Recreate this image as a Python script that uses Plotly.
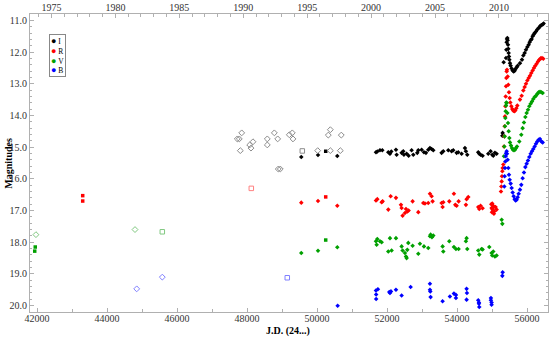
"""Light curve of the variable: I, R, V, B magnitudes vs J.D."""
import datetime as dt
import plotly.graph_objects as go

# CCD photometry, J.D. - 2400000 and magnitude
I_JD = [49551, 50029, 50580, 51685, 51723, 51799, 51866, 52037, 52085, 52123,
        52256, 52275, 52418, 52465, 52484, 52561, 52618, 52703, 52751, 52865,
        52894, 52989, 53056, 53113, 53179, 53227, 53275, 53322, 53560, 53608,
        53751, 53846, 53893, 53989, 54036, 54131, 54227, 54255, 54293, 54607,
        54636, 54674, 54731, 54893, 54960, 55007, 55036, 55083, 55131,
        55295, 55304, 55333, 55400, 55409, 55419, 55428, 55438, 55447, 55457,
        55466, 55476, 55485, 55495, 55514, 55533, 55561, 55590, 55619, 55647,
        55676, 55704, 55733, 55799, 55857, 55895, 55933, 55971, 56009, 56047,
        56075, 56104, 56133, 56161, 56190, 56218, 56256, 56294, 56333, 56371,
        56409, 56447, 56475]
I_MAG = [15.31, 15.25, 15.28, 15.16, 15.14, 15.10, 15.10, 15.16, 15.21, 15.14,
         15.08, 15.24, 15.18, 15.13, 15.24, 15.21, 15.27, 15.10, 15.24, 15.18,
         15.10, 15.08, 15.16, 15.18, 15.08, 15.03, 15.06, 15.10, 15.18, 15.13,
         15.10, 15.13, 15.10, 15.18, 15.16, 15.21, 15.03, 15.13, 15.24, 15.16,
         15.21, 15.24, 15.27, 15.21, 15.13, 15.24, 15.27, 15.18, 15.21,
         14.64, 14.55, 12.32, 12.19, 11.93, 11.69, 11.59, 11.56, 11.63, 11.77,
         11.90, 12.03, 12.14, 12.24, 12.35, 12.43, 12.52, 12.58, 12.61, 12.59,
         12.53, 12.48, 12.43, 12.35, 12.24, 12.11, 12.03, 11.93, 11.84, 11.77,
         11.69, 11.63, 11.59, 11.50, 11.45, 11.40, 11.35, 11.29, 11.24, 11.19,
         11.15, 11.13, 11.10]

R_JD = [49551, 50029, 50580, 51685, 51723, 51847, 51875, 52037, 52104, 52256,
        52399, 52418, 52446, 52513, 52542, 52580, 52618, 52732, 52894, 53037,
        53084, 53179, 53227, 53275, 53303, 53560, 53589, 53608, 53779, 53912,
        53951, 53989, 54046, 54255, 54274, 54322, 54607, 54636, 54674, 54731,
        54988, 55007, 55017, 55036, 55055, 55064, 55102, 55131, 54979, 54998, 55026,
        55257, 55266, 55276, 55285, 55295, 55304, 55323, 55342, 55352, 55361,
        55371, 55381, 55390, 55400, 55409, 55419, 55428, 55447, 55466, 55485,
        55504, 55523, 55552, 55580, 55609, 55638, 55666, 55695, 55723, 55799,
        55847, 55895, 55933, 55971, 56009, 56047, 56085, 56123, 56161, 56199,
        56237, 56275, 56313, 56352, 56390, 56428, 56466]
R_MAG = [16.75, 16.70, 16.85, 16.68, 16.64, 16.74, 16.71, 16.97, 16.55, 16.60,
         16.82, 16.92, 17.16, 17.08, 16.95, 17.03, 17.00, 16.71, 17.05, 16.76,
         16.78, 16.76, 16.47, 16.55, 16.71, 16.76, 16.89, 16.74, 16.71, 16.47,
         16.82, 16.85, 16.71, 16.82, 16.64, 16.57, 16.89, 16.95, 16.85, 16.93,
         16.92, 16.78, 16.97, 16.85, 17.10, 17.03, 16.89, 16.97, 16.80, 17.05, 16.92,
         16.40, 16.24, 16.08, 15.92, 15.76, 15.66, 15.55, 14.98, 14.66, 14.34,
         14.03, 13.71, 13.40, 13.08, 12.82, 12.61, 12.56, 12.77, 13.03, 13.27,
         13.45, 13.59, 13.71, 13.80, 13.85, 13.87, 13.84, 13.77, 13.69, 13.50,
         13.38, 13.21, 13.10, 13.00, 12.90, 12.82, 12.75, 12.66, 12.58, 12.50,
         12.43, 12.37, 12.30, 12.24, 12.20, 12.19, 12.21]

V_JD = [49551, 50029, 50580, 51685, 51704, 51723, 51799, 51847, 52037, 52085,
        52132, 52256, 52418, 52446, 52513, 52542, 52561, 52580, 52608, 52732,
        52894, 52941, 53056, 53179, 53227, 53246, 53284, 53322, 53589, 53608,
        53779, 53912, 53970, 54046, 54255, 54274, 54293, 54607, 54636, 54703,
        54731, 54922, 54988, 55007, 55036, 55083, 55131,
        55276, 55295, 55342, 55352, 55361, 55371, 55381, 55390, 55400, 55409,
        55419, 55438, 55457, 55476, 55495, 55514, 55542, 55571, 55599, 55628,
        55657, 55685, 55714, 55780, 55837, 55875, 55914, 55952, 55990, 56028,
        56066, 56104, 56142, 56180, 56218, 56256, 56294, 56333, 56371, 56409,
        56447]
V_MAG = [18.34, 18.27, 18.16, 17.97, 18.08, 17.90, 17.97, 18.00, 18.29, 17.87,
         18.26, 17.87, 18.13, 18.26, 18.34, 18.45, 18.50, 18.24, 18.02, 18.11,
         18.36, 18.05, 18.13, 18.18, 17.81, 17.76, 17.84, 17.79, 18.13, 18.29,
         17.97, 18.15, 18.21, 18.21, 17.97, 17.87, 18.21, 18.26, 18.39, 18.21,
         18.23, 18.15, 18.34, 18.42, 18.29, 18.45, 18.42,
         17.29, 17.42, 15.29, 14.98, 14.66, 14.34, 14.08, 13.87, 13.69, 13.59,
         13.61, 13.92, 14.24, 14.50, 14.71, 14.85, 14.95, 15.03, 15.08, 15.10,
         15.08, 15.03, 14.98, 14.82, 14.61, 14.40, 14.22, 14.05, 13.92, 13.82,
         13.71, 13.63, 13.56, 13.48, 13.42, 13.38, 13.32, 13.27, 13.25, 13.27,
         13.29]

B_JD = [50590, 51684, 51690, 51690, 51740, 52065, 52085, 52113, 52256, 52418,
        52675, 53227, 53227, 53237, 53246, 53588, 53798, 53912, 53969, 53969,
        54274, 54284, 54274, 54607, 54627, 54627, 54636, 54969, 54969, 54988,
        54988,
        55295, 55304, 55352, 55361, 55371, 55381, 55390, 55400, 55419, 55428,
        55447, 55466, 55485, 55504, 55533, 55561, 55590, 55619, 55647, 55676,
        55704, 55733, 55761, 55799, 55837, 55875, 55914, 55952, 55990, 56028,
        56066, 56104, 56142, 56180, 56218, 56256, 56294, 56333, 56371, 56409,
        56447]
B_MAG = [20.00, 19.52, 19.65, 19.79, 19.48, 19.57, 19.60, 19.55, 19.50, 19.68,
         19.41, 19.31, 19.50, 19.55, 19.73, 19.86, 19.71, 19.62, 19.66, 19.76,
         19.47, 19.60, 19.81, 19.83, 19.90, 19.94, 20.04, 19.76, 19.83, 19.90,
         19.97,
         19.06, 18.95, 16.24, 15.92, 15.66, 15.45, 15.29, 15.19, 15.13, 15.21,
         15.40, 15.66, 15.87, 16.03, 16.15, 16.29, 16.43, 16.55, 16.64, 16.68,
         16.66, 16.58, 16.47, 16.34, 16.19, 15.98, 15.80, 15.63, 15.52, 15.42,
         15.31, 15.21, 15.13, 15.06, 14.98, 14.89, 14.82, 14.77, 14.74, 14.82,
         14.85]

# older photoelectric points (filled squares)
I_SQ_JD, I_SQ_MAG = [50249], [15.13]
R_SQ_JD, R_SQ_MAG = [43306, 43306, 50249], [16.53, 16.70, 16.57]
V_SQ_JD, V_SQ_MAG = [41950, 41935, 50249], [18.15, 18.28, 17.93]
B_SQ_JD, B_SQ_MAG = [], []

# photographic plates (open diamonds)
I_PG_JD = [47723, 47780, 47809, 47849, 48077, 48114, 48171, 48580, 48580, 48781,
           48877, 48894, 48951, 49209, 49294, 49314, 50020, 50323, 50381, 50381,
           50666, 50694]
I_PG_MAG = [14.74, 14.74, 15.11, 14.55, 14.93, 15.03, 14.83, 14.74, 14.93, 14.55,
            14.74, 15.69, 15.69, 14.61, 14.55, 14.74, 15.11, 14.62, 14.45, 15.11,
            15.11, 14.62]
R_PG_JD, R_PG_MAG = [], []
V_PG_JD, V_PG_MAG = [41970, 44800], [17.76, 17.60]
B_PG_JD, B_PG_MAG = [44849, 45580], [19.47, 19.10]

# other archival points (open squares)
I_OS_JD, I_OS_MAG = [49580], [15.12]
R_OS_JD, R_OS_MAG = [48123], [16.30]
V_OS_JD, V_OS_MAG = [45580], [17.67]
B_OS_JD, B_OS_MAG = [49151], [19.12]

YEARS = [1975, 1980, 1985, 1990, 1995, 2000, 2005, 2010]

BANDS = [
    ("I", "#000000", "#8c8c8c", (I_JD, I_MAG), (I_SQ_JD, I_SQ_MAG), (I_PG_JD, I_PG_MAG), (I_OS_JD, I_OS_MAG)),
    ("R", "#ff0000", "#ff8080", (R_JD, R_MAG), (R_SQ_JD, R_SQ_MAG), (R_PG_JD, R_PG_MAG), (R_OS_JD, R_OS_MAG)),
    ("V", "#00a000", "#80c880", (V_JD, V_MAG), (V_SQ_JD, V_SQ_MAG), (V_PG_JD, V_PG_MAG), (V_OS_JD, V_OS_MAG)),
    ("B", "#0000ff", "#8080ff", (B_JD, B_MAG), (B_SQ_JD, B_SQ_MAG), (B_PG_JD, B_PG_MAG), (B_OS_JD, B_OS_MAG)),
]


def jd_of_year(y):
    # J.D. - 2400000 at Jan 1.0
    return (dt.date(y, 1, 1) - dt.date(2000, 1, 1)).days + 51544.5


FONT = "Liberation Serif"
XR = [41800, 56600]

fig = go.Figure()
for name, col, light, ccd, sq, pg, osq in BANDS:
    fig.add_trace(go.Scatter(x=ccd[0], y=ccd[1], mode="markers", name=name,
                             marker=dict(symbol="diamond", size=3.5, color=col)))
    fig.add_trace(go.Scatter(x=sq[0], y=sq[1], mode="markers",
                             marker=dict(symbol="square", size=3.5, color=col)))
    fig.add_trace(go.Scatter(x=pg[0], y=pg[1], mode="markers",
                             marker=dict(symbol="diamond-open", size=4.5, color=light,
                                         line=dict(width=1))))
    # same scale as x; plotted on the year axis so that axis is drawn
    fig.add_trace(go.Scatter(x=osq[0], y=osq[1], mode="markers", xaxis="x2",
                             marker=dict(symbol="square-open", size=4.5, color=light,
                                         line=dict(width=1))))

axis_common = dict(showgrid=False, zeroline=False, showline=True, linecolor="#b0b0b0",
                   ticks="inside", tickcolor="#b0b0b0", ticklen=4, automargin=False,
                   tickfont=dict(family=FONT, size=10, color="#333"))

# small legend box, drawn as text like the original
legend_txt = "<br>".join(
    f"<span style=\"color:{col};font-size:9px\">●</span> {name}" for name, col, *_ in BANDS)

fig.update_layout(
    width=551, height=337,
    margin=dict(l=30, r=3, t=14, b=25),
    paper_bgcolor="white", plot_bgcolor="white",
    font=dict(family=FONT, size=10, color="#000"),
    showlegend=False,
    xaxis=dict(range=XR, tickvals=list(range(42000, 56001, 2000)), tickformat="d",
               ticklabelstandoff=-3,
               minor=dict(dtick=1000, tick0=42000, ticks="inside", ticklen=3,
                          tickcolor="#b0b0b0"),
               **axis_common),
    xaxis2=dict(range=XR, overlaying="x", side="top", anchor="y",
                tickvals=[jd_of_year(y) for y in YEARS], ticktext=[str(y) for y in YEARS],
                ticklabelstandoff=-2,
                minor=dict(tickvals=[jd_of_year(y) for y in range(1974, 2014)],
                           ticks="inside", ticklen=3, tickcolor="#b0b0b0"),
                **axis_common),
    yaxis=dict(range=[20.2, 10.8], tickvals=list(range(11, 21)), tickformat=".1f",
               mirror="ticks",
               minor=dict(dtick=0.2, tick0=11, ticks="inside", ticklen=2,
                          tickcolor="#b0b0b0"),
               **axis_common),
    annotations=[
        dict(text=legend_txt, xref="paper", yref="paper", x=0.037, y=0.933,
             xanchor="left", yanchor="top", align="left", showarrow=False,
             bordercolor="#888", borderwidth=1, borderpad=1, bgcolor="white",
             font=dict(family=FONT, size=7.5)),
        dict(text="<b>Magnitudes</b>", textangle=-90, xref="paper", yref="paper",
             x=-0.043, y=0.5, xanchor="center", yanchor="middle", showarrow=False,
             font=dict(family=FONT, size=10)),
        dict(text="<b>J.D. (24...)</b>", xref="paper", yref="paper",
             x=0.498, y=-0.064, xanchor="center", yanchor="middle", showarrow=False,
             font=dict(family=FONT, size=10)),
    ],
)

# the page's default body margin would shift the figure
fig.write_html("out.html", config={"displayModeBar": False},
               post_script="document.body.style.margin='0';")
